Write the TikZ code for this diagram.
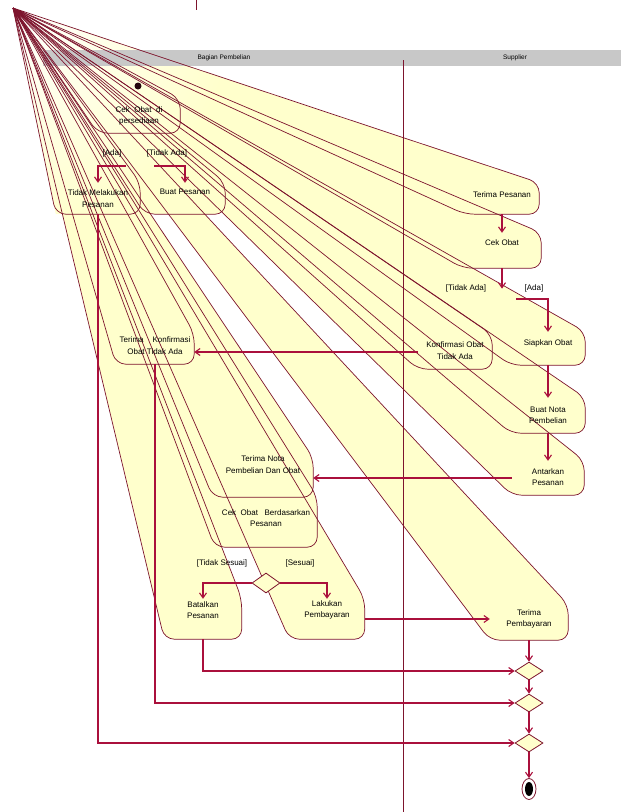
\documentclass[tikz,border=0pt]{standalone}
\usepackage{fontspec}
\setmainfont{Liberation Sans}
\usetikzlibrary{arrows.meta,shapes.geometric}
\pgfdeclarelayer{bg}
\pgfsetlayers{bg,main}
\definecolor{fanfill}{RGB}{255,255,204}
\definecolor{edgered}{RGB}{125,20,45}
\definecolor{flowred}{RGB}{170,16,60}
\definecolor{lanegray}{RGB}{200,200,200}
\tikzset{
  act/.style n args={4}{minimum width=#1, minimum height=#2, inner sep=0pt,
    label={[yshift=#3]center:{#4}}},
  every label/.style={align=center, inner sep=0pt},
  decision/.style={diamond, draw=edgered, fill=fanfill, line width=0.8pt,
    minimum width=28pt, minimum height=20pt, inner sep=0pt},
  merge/.style={decision, minimum height=18pt},
  flow/.style={->, draw=flowred, line width=1.1pt},
  fanline/.style={draw=edgered, line width=0.7pt},
}
\def\acts{cekstok,tidakpesan,buatpesan,terimapesan,cekobat,konfirmasi,siapkan,buatnota,antarkan,terimakonf,terimanota,cekpesanan,batalkan,lakukan,terimabayar}

\begin{document}
\begin{tikzpicture}[x=1pt,y=-1pt,font=\fontsize{8}{11.5}\selectfont,
  >={Straight Barb[length=5pt,width=7pt]}]
\useasboundingbox (0,0) rectangle (621,812);
\coordinate (A) at (13,8); % all the fans start here
\draw[edgered] (196,0) -- (196,10);

% lanes
\node[font=\fontsize{6.5}{7}\selectfont] (lane1) at (224,58) {Bagian Pembelian};
\node[font=\fontsize{6.5}{7}\selectfont] (lane2) at (515,58) {Supplier};

% activities (width, height, text shift, text)
\node[act={82}{34}{0pt}{Cek~~Obat~~di\\persediaan}] (cekstok) at (139,116) {};
\node[act={84}{31}{0pt}{Tidak Melakukan\\Pesanan}] (tidakpesan) at (98,198.5) {};
\node[act={80}{31}{7pt}{Buat Pesanan}] (buatpesan) at (185,198.5) {};
\node[act={74}{31}{3.5pt}{Terima Pesanan}] (terimapesan) at (502,198.5) {};
\node[act={78}{35}{8pt}{Cek Obat}] (cekobat) at (502,250.5) {};
\node[act={74}{34}{1.5pt}{Konfirmasi Obat\\Tidak Ada}] (konfirmasi) at (455,352) {};
\node[act={74}{33}{5pt}{Siapkan Obat}] (siapkan) at (548,348.5) {};
\node[act={74}{35}{0pt}{Buat Nota\\Pembelian}] (buatnota) at (548,415.5) {};
\node[act={72}{34}{1pt}{Antarkan\\Pesanan}] (antarkan) at (548,478) {};
\node[act={78}{30}{3.5pt}{Terima~~~~Konfirmasi\\Obat Tidak Ada}] (terimakonf) at (155,349) {};
\node[act={100}{39}{13pt}{Terima Nota\\Pembelian Dan Obat}] (terimanota) at (263,477.5) {};
\node[act={102}{50}{4pt}{Cek~~Obat~~~Berdasarkan\\Pesanan}] (cekpesanan) at (266,522) {};
\node[act={77}{40}{9pt}{Batalkan\\Pesanan}] (batalkan) at (203,619) {};
\node[act={75}{40}{9pt}{Lakukan\\Pembayaran}] (lakukan) at (327,619) {};
\node[act={78}{35}{3.5pt}{Terima\\Pembayaran}] (terimabayar) at (529,622.5) {};

\node[circle, fill=black!70!edgered, minimum size=7pt, inner sep=0pt] (init) at (138,86) {};
\node[decision] (d3) at (266,583) {};
\node[merge] (m1) at (529,671) {};
\node[merge] (m2) at (529,703) {};
\node[merge] (m3) at (529,743) {};
\node[ellipse, draw=edgered, line width=0.8pt, minimum width=14pt, minimum height=21pt, inner sep=0pt,
  path picture={\fill (path picture bounding box.center) ellipse (4pt and 7pt);}] (final) at (529,789) {};

% guards
\node (g1) at (112,153) {[Ada]};
\node (g2) at (167,153) {[Tidak Ada]};
\node (g3) at (466,288) {[Tidak Ada]};
\node (g4) at (534,288) {[Ada]};
\node (g5) at (222,563) {[Tidak Sesuai]};
\node (g6) at (300,563) {[Sesuai]};

\begin{pgfonlayer}{bg}
\node[decision] (d1) at (140,166) {};
\node[decision] (d2) at (502,299) {};
\draw[flow] (init) -- (cekstok);
\draw[flow] (cekstok) -- (d1);
\draw[flow] (buatpesan.east) -- (buatpesan.east -| terimapesan.west);
\draw[flow] (d2.west) -| (konfirmasi.north);
\draw[flow] (terimanota) -- (cekpesanan);
\draw[flow] (cekpesanan) -- (d3);
% the fans
\foreach \n in \acts
  \fill[fanfill] (A) [rounded corners=10pt] -- (\n.north east) -- (\n.south east) -- (\n.south west) -- (A);
\begin{scope}
\clip foreach \n in \acts {(A) -- (\n.north east) -- (\n.south east) -- (\n.south west) -- cycle};
\shade[inner color=white, outer color=fanfill] (A) circle[radius=220pt];
\end{scope}
\fill[lanegray] (43,50) rectangle (621,66);
\foreach \n in \acts
  \draw[fanline] (A) [rounded corners=10pt] -- (\n.north east) -- (\n.south east) -- (\n.south west) -- (A);
\draw[edgered, line width=0.8pt] (403,60) -- (403,812); % lane divider
\end{pgfonlayer}

% transitions
\draw[flow] (d1.west) -| (tidakpesan.north);
\draw[flow] (d1.east) -| (buatpesan.north);
\draw[flow] (terimapesan) -- (cekobat);
\draw[flow] (cekobat) -- (d2);
\draw[flow] (d2.east) -| (siapkan.north);
\draw[flow] (konfirmasi.west) -- (konfirmasi.west -| terimakonf.east);
\draw[flow] (siapkan) -- (buatnota);
\draw[flow] (buatnota) -- (antarkan);
\draw[flow] (antarkan.west) -- (antarkan.west -| terimanota.east);
\draw[flow] (d3.west) -| (batalkan.north);
\draw[flow] (d3.east) -| (lakukan.north);
\draw[flow] (lakukan.east) -- (lakukan.east -| terimabayar.west);
\draw[flow] (terimabayar) -- (m1);
\draw[flow] (batalkan.south) |- (m1.west);
\draw[flow] (terimakonf.south) |- (m2.west);
\draw[flow] (tidakpesan.south) |- (m3.west);
\draw[flow] (m1) -- (m2);
\draw[flow] (m2) -- (m3);
\draw[flow] (m3) -- (final);
\end{tikzpicture}
\end{document}
